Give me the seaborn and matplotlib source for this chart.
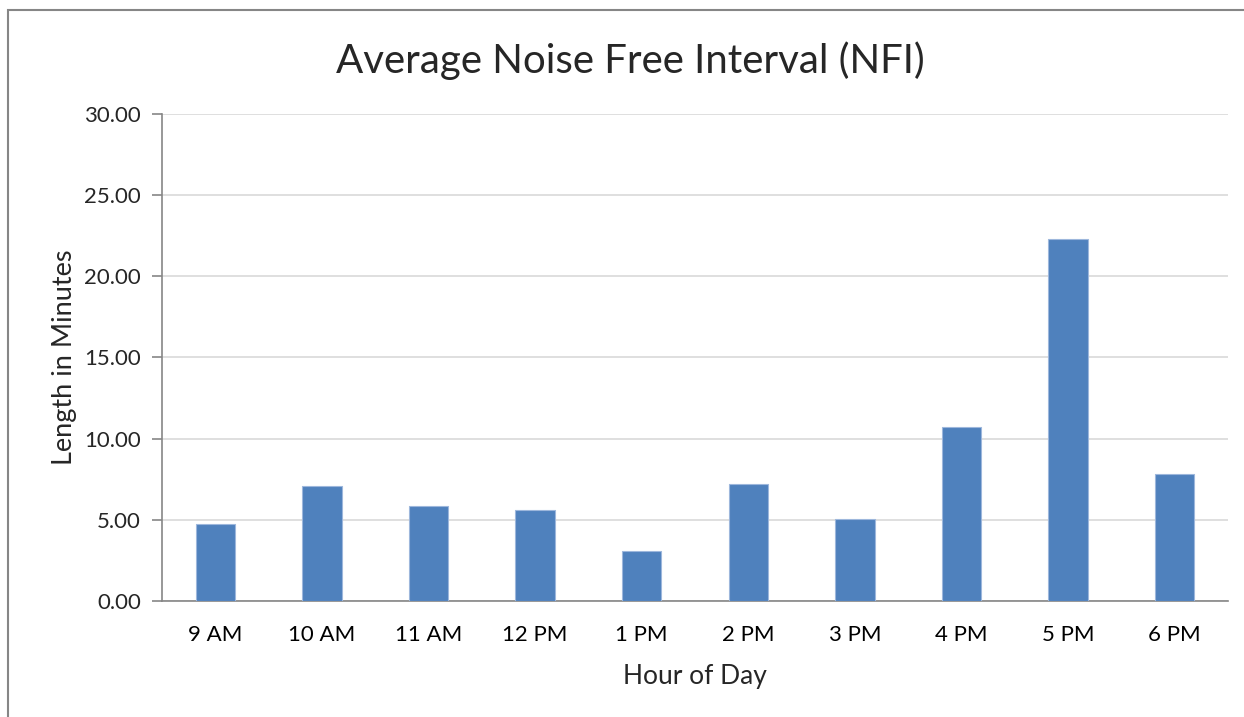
# libraries
import seaborn as sns
import matplotlib.pyplot as plt
import pandas as pd
import numpy as np

# data
hours = ["9 AM", "10 AM", "11 AM", "12 PM", "1 PM", "2 PM", "3 PM", "4 PM", "5 PM", "6 PM"]
nfi_minutes = [4.77, 7.10, 5.87, 5.58, 3.09, 7.22, 5.03, 10.72, 22.30, 7.82]
y_ticks = [0, 5, 10, 15, 20, 25, 30]

df = pd.DataFrame({"hour": hours, "nfi": nfi_minutes})

sns.set_theme(style="white")
plt.rcParams["font.family"] = ["Lato", "DejaVu Sans"]

fig = plt.figure(figsize=(12.44, 7.17), dpi=100)
ax = fig.add_axes([0.1302, 0.1618, 0.8569, 0.6792])

# chart border (cropped on right/bottom in the original)
fig.patches.append(plt.Rectangle((8 / 1244, -0.01), 1.1, 1 - 10 / 717 + 0.01,
                                 transform=fig.transFigure, fill=False,
                                 edgecolor="#868686", linewidth=1.5))

sns.barplot(data=df, x="hour", y="nfi", color="#4F81BD", saturation=1,
            width=0.37, edgecolor="#9DB7DC", linewidth=0.8, ax=ax, zorder=3)

ax.set_ylim(0, 30)
ax.set_xlim(-0.5, len(hours) - 0.5)
ax.set_yticks(y_ticks)
ax.set_yticklabels([f"{v:.2f}" for v in y_ticks])
ax.yaxis.grid(True, color="#D9D9D9", linewidth=1.2, zorder=0)
ax.set_axisbelow(True)

for side in ["top", "right"]:
    ax.spines[side].set_visible(False)
for side in ["left", "bottom"]:
    ax.spines[side].set_color("#868686")
    ax.spines[side].set_linewidth(1.2)

# x ticks between categories, like Excel
ax.set_xticks(np.arange(-0.5, len(hours), 1), minor=True)
ax.tick_params(axis="x", which="major", length=0, pad=17, labelsize=16, colors="#000000")
ax.tick_params(axis="x", which="minor", length=7, width=1.2, color="#868686", direction="out")
ax.tick_params(axis="y", length=7, width=1.2, color="#868686", direction="out", left=True,
               pad=8, labelsize=16)

ax.set_xlabel("Hour of Day", fontsize=19, labelpad=14)
ax.set_ylabel("Length in Minutes", fontsize=19.5, labelpad=5)
fig.text(0.507, 0.915, "Average Noise Free Interval (NFI)",
         ha="center", va="center", fontsize=29)

fig.savefig("out.png", dpi=100)
